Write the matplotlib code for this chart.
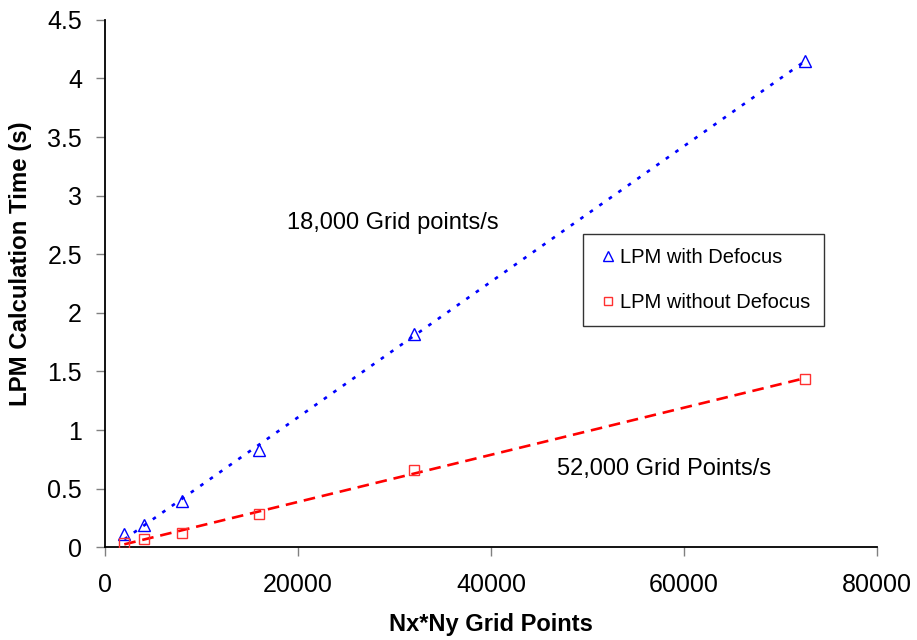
import numpy as np
from matplotlib import pyplot as plt
from matplotlib.ticker import FuncFormatter, MultipleLocator

plt.rcParams['font.family'] = ['Liberation Sans', 'DejaVu Sans']

# grid size vs. LPM run time
grid_points = [2000, 4000, 8000, 16000, 32000, 72500]
time_defocus = [0.11, 0.19, 0.39, 0.83, 1.82, 4.15]
time_no_defocus = [0.04, 0.07, 0.125, 0.28, 0.66, 1.435]

label_defocus = 'LPM with Defocus'
label_no_defocus = 'LPM without Defocus'
rate_defocus = '18,000 Grid points/s'
rate_no_defocus = '52,000 Grid Points/s'

fig = plt.figure(figsize=(9.17, 6.4), dpi=100)
ax = fig.add_axes([0.1145, 0.145, 0.842, 0.824])

x = np.array(grid_points, dtype=float)
x_fit = np.array([x.min(), x.max()])

# linear trend lines
k1, b1 = np.polyfit(x, time_defocus, 1)
k2, b2 = np.polyfit(x, time_no_defocus, 1)
ax.plot(x_fit, k1 * x_fit + b1, color='#0000ff', lw=1.9,
        linestyle=(0, (1.4, 3.0)), dash_capstyle='butt', zorder=2)
ax.plot(x_fit, k2 * x_fit + b2, color='#ff0000', lw=1.9,
        linestyle=(0, (4.4, 2.6)), dash_capstyle='butt', zorder=2)

ax.plot(x, time_defocus, linestyle='none', marker='^', ms=8,
        mfc='none', mec='#0000ff', mew=1.0, label=label_defocus, zorder=3)
ax.plot(x, time_no_defocus, linestyle='none', marker='s', ms=7.2,
        mfc='none', mec='#ff3030', mew=1.0, label=label_no_defocus, zorder=3)

ax.text(18860, 2.716, rate_defocus, fontsize=17, ha='left', va='baseline')
ax.text(46870, 0.615, rate_no_defocus, fontsize=17, ha='left', va='baseline')

ax.set_xlim(0, 80000)
ax.set_ylim(0, 4.5)
ax.xaxis.set_major_locator(MultipleLocator(20000))
ax.yaxis.set_major_locator(MultipleLocator(0.5))
ax.xaxis.set_major_formatter(FuncFormatter(lambda v, p: '%d' % v))
ax.yaxis.set_major_formatter(FuncFormatter(lambda v, p: '%g' % v))
ax.tick_params(direction='out', length=6.5, width=1.0, color='#808080',
               labelsize=18)
ax.tick_params(axis='x', pad=12)
ax.tick_params(axis='y', pad=10)

for side in ('top', 'right'):
    ax.spines[side].set_visible(False)
for side in ('left', 'bottom'):
    ax.spines[side].set_linewidth(1.3)

ax.set_xlabel('Nx*Ny Grid Points', fontsize=17, fontweight='bold')
ax.set_ylabel('LPM Calculation Time (s)', fontsize=17.3, fontweight='bold')
ax.xaxis.set_label_coords(0.5, -0.125)
ax.yaxis.set_label_coords(-0.094, 0.537)

leg = ax.legend(loc='upper left', bbox_to_anchor=(0.619, 0.594),
                borderaxespad=0, fontsize=14.5, frameon=True, fancybox=False,
                edgecolor='black', handlelength=1.1, handletextpad=0.05,
                borderpad=0.68, labelspacing=1.3, markerscale=0.85)
leg.get_frame().set_linewidth(1.0)

fig.savefig('out.png', dpi=100)
